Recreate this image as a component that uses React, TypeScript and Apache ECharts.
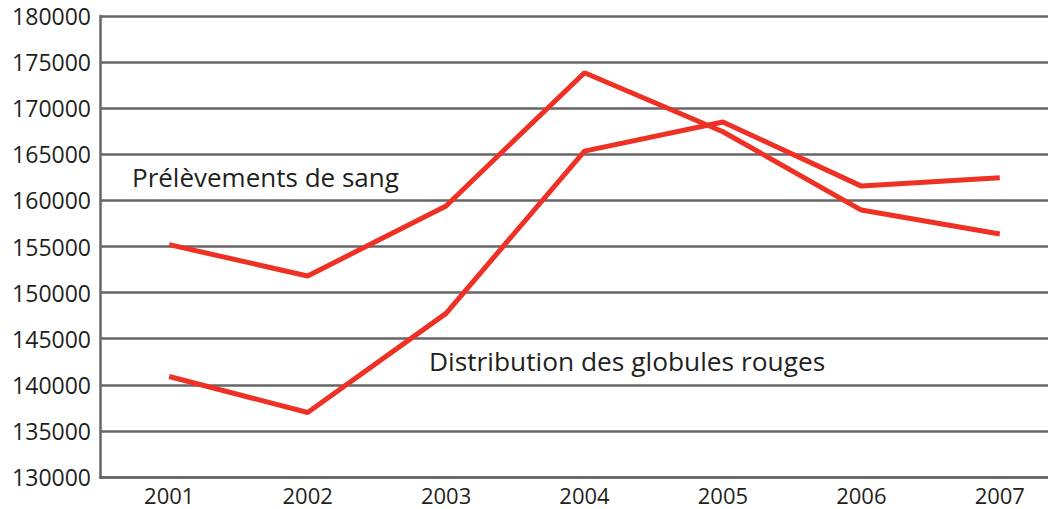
import React, { useEffect, useRef } from "react";
import * as echarts from "echarts";

const years = ["2001", "2002", "2003", "2004", "2005", "2006", "2007"];
const prelevements = [155200, 151800, 159400, 173850, 167450, 158950, 156350];
const distribution = [140900, 137000, 147750, 165350, 168500, 161550, 162450];
const yMin = 130000;
const yMax = 180000;
const yStep = 5000;

const RED = "#ee3124";
const GRID = "#666666";
const TEXT = "#231f20";
const FONT = "'Open Sans', sans-serif";

export default function App() {
  const ref = useRef<HTMLDivElement>(null);
  useEffect(() => {
    document.body.style.margin = "0";
    document.body.style.overflow = "hidden";
    document.documentElement.style.overflow = "hidden";
    const chart = echarts.init(ref.current!, null, { renderer: "svg" });
    chart.setOption({
      animation: false,
      backgroundColor: "#ffffff",
      grid: { left: 100, top: 16, right: 0, bottom: 32, containLabel: false },
      xAxis: {
        type: "category",
        data: years,
        boundaryGap: true,
        axisLine: { show: true, lineStyle: { color: GRID, width: 2.5 } },
        axisTick: { show: false },
        axisLabel: { color: TEXT, fontFamily: FONT, fontSize: 22, margin: 7 },
        splitLine: { show: false },
      },
      yAxis: {
        type: "value",
        min: yMin,
        max: yMax,
        interval: yStep,
        axisLine: { show: true, lineStyle: { color: GRID, width: 2.5 } },
        axisTick: { show: false },
        axisLabel: {
          color: TEXT,
          fontFamily: FONT,
          fontSize: 23,
          margin: 9,
          formatter: (v: number) => String(v),
        },
        splitLine: { show: true, lineStyle: { color: GRID, width: 2.5 } },
      },
      series: [
        {
          name: "Prélèvements de sang",
          type: "line",
          data: prelevements,
          symbol: "none",
          lineStyle: { color: RED, width: 5 },
          z: 3,
        },
        {
          name: "Distribution des globules rouges",
          type: "line",
          data: distribution,
          symbol: "none",
          lineStyle: { color: RED, width: 5 },
          z: 3,
        },
      ],
      graphic: [
        {
          type: "text",
          left: 132,
          top: 164,
          style: { text: "Prélèvements de sang", fill: TEXT, font: `26px ${FONT}` },
        },
        {
          type: "text",
          left: 429,
          top: 348,
          style: { text: "Distribution des globules rouges", fill: TEXT, font: `26.3px ${FONT}` },
        },
      ],
    });
    return () => chart.dispose();
  }, []);
  return <div ref={ref} style={{ width: 1069, height: 509 }} />;
}
